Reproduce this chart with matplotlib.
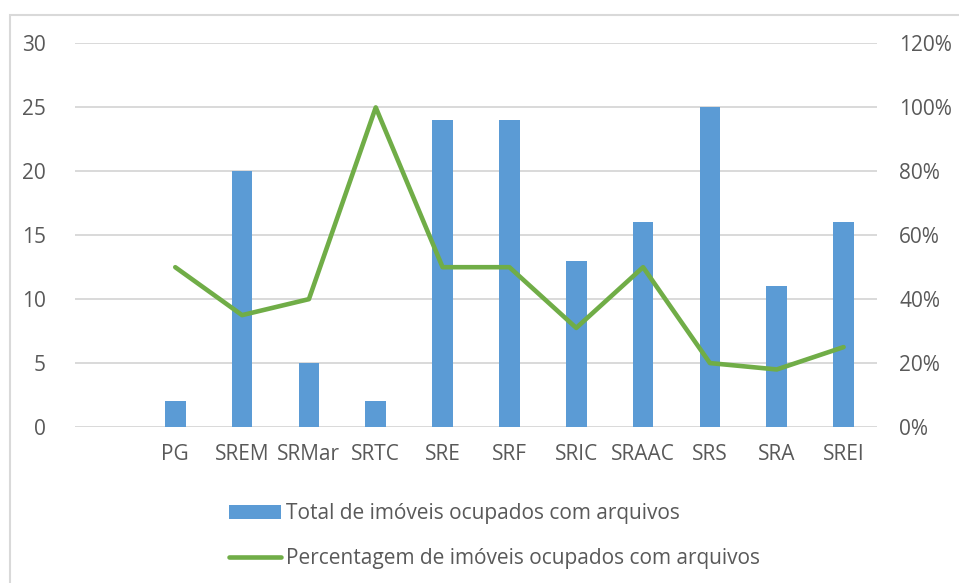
import numpy as np
import matplotlib.pyplot as plt
import matplotlib.patches as mpatches
from matplotlib.ticker import FuncFormatter

plt.rcParams['font.family'] = ['Open Sans', 'DejaVu Sans']

categories = ['', 'PG', 'SREM', 'SRMar', 'SRTC', 'SRE', 'SRF', 'SRIC', 'SRAAC', 'SRS', 'SRA', 'SREI']
totals = [np.nan, 2, 20, 5, 2, 24, 24, 13, 16, 25, 11, 16]
percent = [np.nan, 0.50, 0.35, 0.40, 1.00, 0.50, 0.50, 0.31, 0.50, 0.20, 0.18, 0.25]

bar_color = '#5b9bd5'
line_color = '#70ad47'
text_color = '#595959'
grid_color = '#d9d9d9'

fig = plt.figure(figsize=(9.59, 5.83), dpi=100)
ax = fig.add_axes([0.0782, 0.2676, 0.8363, 0.6578])
ax2 = ax.twinx()

x = np.arange(len(categories))
bars = ax.bar(x, totals, width=0.31, color=bar_color, zorder=2, label='Total de imóveis ocupados com arquivos')
line, = ax2.plot(x, percent, color=line_color, linewidth=3.3, solid_joinstyle='round',
                 solid_capstyle='round', zorder=3, label='Percentagem de imóveis ocupados com arquivos')

ax.set_xlim(-0.5, len(categories) - 0.5)
ax.set_ylim(0, 30)
ax.set_yticks(range(0, 31, 5))
ax2.set_ylim(0, 1.2)
ax2.set_yticks(np.arange(0, 1.21, 0.2))
ax2.yaxis.set_major_formatter(FuncFormatter(lambda v, p: f'{v * 100:.0f}%'))

ax.set_xticks(x)
ax.set_xticklabels(categories)
ax.yaxis.grid(True, color=grid_color, linewidth=1.4, zorder=0)
ax.set_axisbelow(True)

for a in (ax, ax2):
    for s in a.spines.values():
        s.set_visible(False)
    a.tick_params(length=0, labelsize=15, colors=text_color)
ax.tick_params(axis='y', pad=21)
ax2.tick_params(axis='y', pad=16)
ax.tick_params(axis='x', pad=12)

# outer chart frame
frame = mpatches.Rectangle((10 / 959, -0.1), 1.2, 1.1 - 15 / 583, transform=fig.transFigure,
                           fill=False, edgecolor=grid_color, linewidth=1.5)
fig.patches.append(frame)

leg = fig.legend([bars, line], [bars.get_label(), line.get_label()], loc='upper left',
                 bbox_to_anchor=(221 / 959, 1 - 495 / 583), frameon=False, ncol=1,
                 fontsize=15, labelcolor=text_color, handlelength=2.5, handletextpad=0.2,
                 labelspacing=1.15, borderaxespad=0, handleheight=0.7)

fig.savefig('out.png', dpi=100)
